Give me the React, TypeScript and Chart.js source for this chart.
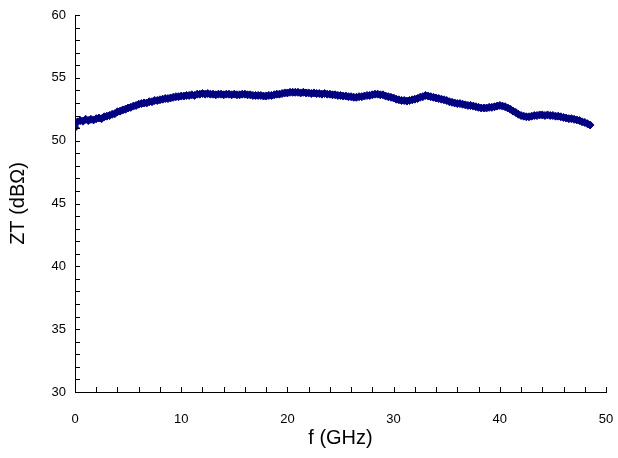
import React, { useEffect, useRef } from "react";
import { Chart, registerables } from "chart.js";

Chart.register(...registerables);

const freqStart = 0;
const freqStep = 0.25;
const ztValues = [
  51.05, 51.5, 51.6, 51.55,
  51.7, 51.6, 51.7, 51.65,
  51.75, 51.8, 51.75, 51.9,
  51.95, 52.0, 52.1, 52.15,
  52.3, 52.35, 52.45, 52.5,
  52.6, 52.65, 52.75, 52.8,
  52.9, 52.95, 53.0, 53.0,
  53.1, 53.1, 53.2, 53.2,
  53.25, 53.3, 53.35, 53.35,
  53.4, 53.45, 53.5, 53.5,
  53.55, 53.55, 53.6, 53.6,
  53.65, 53.6, 53.7, 53.7,
  53.75, 53.7, 53.75, 53.7,
  53.7, 53.65, 53.7, 53.7,
  53.65, 53.7, 53.7, 53.65,
  53.7, 53.65, 53.65, 53.7,
  53.7, 53.65, 53.65, 53.6,
  53.6, 53.6, 53.6, 53.55,
  53.55, 53.6, 53.6, 53.65,
  53.7, 53.7, 53.75, 53.8,
  53.8, 53.85, 53.85, 53.85,
  53.85, 53.8, 53.85, 53.8,
  53.8, 53.75, 53.8, 53.75,
  53.75, 53.7, 53.75, 53.7,
  53.7, 53.65, 53.65, 53.6,
  53.6, 53.55, 53.55, 53.5,
  53.5, 53.45, 53.45, 53.5,
  53.5, 53.55, 53.6, 53.6,
  53.65, 53.7, 53.7, 53.65,
  53.65, 53.55, 53.5, 53.45,
  53.4, 53.3, 53.25, 53.2,
  53.2, 53.15, 53.2, 53.25,
  53.3, 53.35, 53.45, 53.5,
  53.6, 53.55, 53.5, 53.45,
  53.4, 53.35, 53.3, 53.25,
  53.2, 53.1, 53.05, 53.0,
  52.95, 52.95, 52.9, 52.85,
  52.8, 52.8, 52.75, 52.7,
  52.65, 52.6, 52.6, 52.6,
  52.65, 52.65, 52.7, 52.75,
  52.8, 52.75, 52.7, 52.6,
  52.5, 52.35, 52.25, 52.1,
  52.0, 51.95, 51.9, 51.9,
  51.95, 52.0, 52.0, 52.05,
  52.05, 52.0, 52.05, 52.0,
  52.0, 51.95, 51.95, 51.9,
  51.85, 51.8, 51.75, 51.75,
  51.7, 51.65, 51.6, 51.5,
  51.45, 51.35, 51.25,
];

const xTicks = [0, 10, 20, 30, 40, 50];
const yTicks = [30, 35, 40, 45, 50, 55, 60];
const xMinorStep = 2;
const yMinorStep = 1;

const FONT = "'Liberation Sans', Arial, sans-serif";

const innerTicks = {
  id: "innerTicks",
  afterDraw(chart: any) {
    const { ctx, scales } = chart;
    const xs = scales.x;
    const ys = scales.y;
    ctx.save();
    ctx.strokeStyle = "#000";
    ctx.lineWidth = 1;
    ctx.beginPath();
    for (let v = xs.min; v <= xs.max + 1e-9; v += xMinorStep) {
      const px = Math.round(xs.getPixelForValue(v)) + 0.5;
      const py = ys.bottom;
      ctx.moveTo(px, py);
      ctx.lineTo(px, py - 5);
    }
    for (let v = ys.min; v <= ys.max + 1e-9; v += yMinorStep) {
      const py = Math.round(ys.getPixelForValue(v)) + 0.5;
      const px = xs.left;
      ctx.moveTo(px, py);
      ctx.lineTo(px + 5, py);
    }
    ctx.stroke();
    ctx.restore();
  },
};

export default function App() {
  const ref = useRef<HTMLCanvasElement>(null);
  useEffect(() => {
    document.body.style.margin = "0";
    const data = ztValues.map((v, i) => ({ x: freqStart + i * freqStep, y: v }));
    const chart = new Chart(ref.current as HTMLCanvasElement, {
      type: "scatter",
      data: {
        datasets: [
          {
            data,
            pointStyle: "rectRot",
            pointRadius: 4,
            pointBackgroundColor: "#000080",
            pointBorderColor: "#000080",
            pointBorderWidth: 1,
            showLine: false,
          },
        ],
      },
      options: {
        animation: false,
        responsive: false,
        maintainAspectRatio: false,
        layout: { padding: { left: 0, right: 12, top: 15, bottom: 0 } },
        plugins: { legend: { display: false }, tooltip: { enabled: false } },
        scales: {
          x: {
            type: "linear",
            min: 0,
            max: 50,
            afterBuildTicks: (s: any) => {
              s.ticks = xTicks.map((v) => ({ value: v }));
            },
            afterFit: (s: any) => {
              s.height = 66;
              s.paddingLeft = 0;
              s.paddingRight = 0;
            },
            grid: { display: false, drawTicks: false },
            border: { display: true, color: "#000", width: 1 },
            ticks: { color: "#000", font: { family: FONT, size: 13 }, padding: 20 },
            title: {
              display: true,
              text: "f (GHz)",
              color: "#000",
              font: { family: FONT, size: 20 },
              padding: { top: 0, bottom: 8 },
            },
          },
          y: {
            type: "linear",
            min: 30,
            max: 60,
            afterBuildTicks: (s: any) => {
              s.ticks = yTicks.map((v) => ({ value: v }));
            },
            afterFit: (s: any) => {
              s.width = 75;
              s.paddingTop = 0;
              s.paddingBottom = 0;
            },
            grid: { display: false, drawTicks: false },
            border: { display: true, color: "#000", width: 1 },
            ticks: { color: "#000", font: { family: FONT, size: 13 }, padding: 9 },
            title: {
              display: true,
              text: "ZT (dBΩ)",
              color: "#000",
              font: { family: FONT, size: 20 },
              padding: { top: 6, bottom: 0 },
            },
          },
        },
      },
      plugins: [innerTicks],
    } as any);
    return () => chart.destroy();
  }, []);
  return (
    <div style={{ width: 618, height: 458 }}>
      <canvas ref={ref} width={618} height={458} style={{ display: "block" }} />
    </div>
  );
}
